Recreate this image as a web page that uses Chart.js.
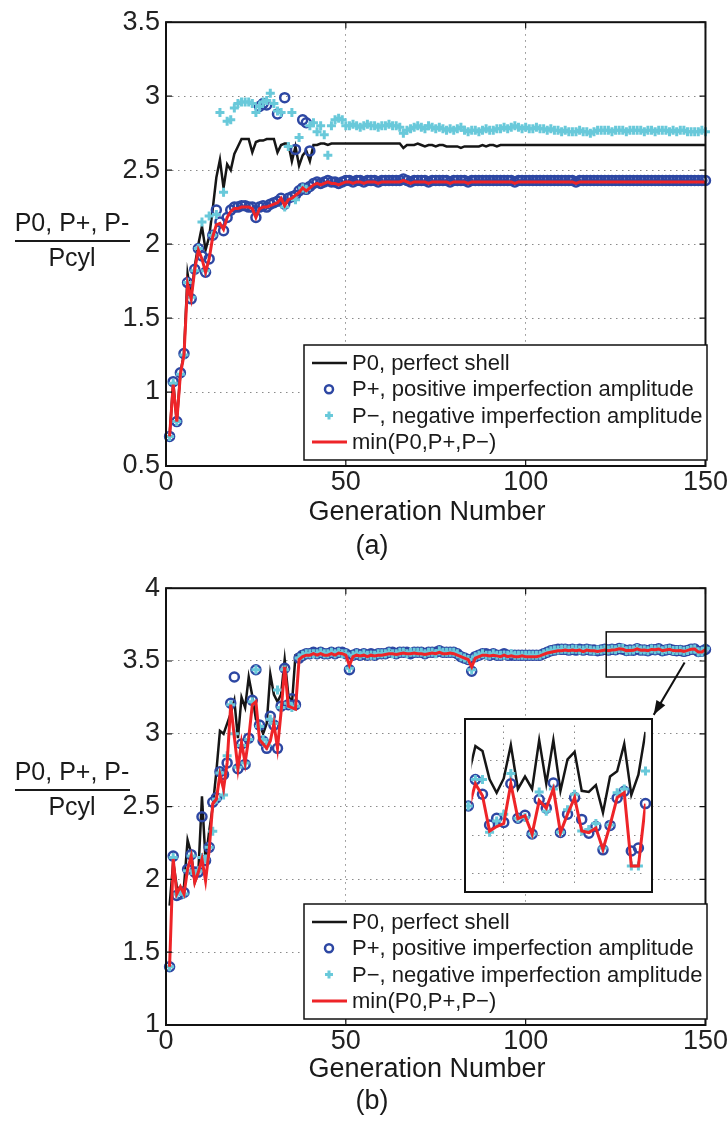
<!DOCTYPE html>
<html>
<head>
<meta charset="utf-8">
<script src="https://cdn.jsdelivr.net/npm/chart.js@4.4.1/dist/chart.umd.min.js"></script>
<style>
  html, body { margin: 0; padding: 0; background: #fff; }
  #wrap { position: relative; width: 728px; height: 1125px; }
  canvas { position: absolute; left: 0; }
  #chartA { top: 0; }
  #chartB { top: 566px; }
  #inset { left: 464px; top: 718px; }
</style>
</head>
<body>
<div id="wrap">
  <canvas id="chartA" width="728" height="566"></canvas>
  <canvas id="chartB" width="728" height="559"></canvas>
  <canvas id="inset" width="189" height="175"></canvas>
</div>
<script>
// ---- (a) values, generations 1..150 ----
const topP0 = [
  0.70,1.07,0.80,1.13,1.26,1.80,1.65,1.85,2.00,2.12,
  1.96,2.05,2.24,2.45,2.57,2.38,2.54,2.50,2.61,2.66,
  2.71,2.71,2.71,2.62,2.69,2.70,2.70,2.71,2.71,2.71,
  2.62,2.67,2.68,2.68,2.56,2.66,2.53,2.60,2.63,2.56,
  2.67,2.67,2.68,2.68,2.67,2.68,2.68,2.68,2.68,2.68,
  2.68,2.68,2.68,2.68,2.68,2.68,2.68,2.68,2.68,2.68,
  2.68,2.68,2.68,2.68,2.68,2.65,2.67,2.67,2.67,2.68,
  2.67,2.66,2.67,2.67,2.66,2.67,2.67,2.66,2.66,2.66,
  2.66,2.65,2.66,2.66,2.66,2.66,2.66,2.67,2.66,2.67,
  2.67,2.66,2.67,2.67,2.67,2.67,2.67,2.67,2.67,2.67,
  2.67,2.67,2.67,2.67,2.67,2.67,2.67,2.67,2.67,2.67,
  2.67,2.67,2.67,2.67,2.67,2.67,2.67,2.67,2.67,2.67,
  2.67,2.67,2.67,2.67,2.67,2.67,2.67,2.67,2.67,2.67,
  2.67,2.67,2.67,2.67,2.67,2.67,2.67,2.67,2.67,2.67,
  2.67,2.67,2.67,2.67,2.67,2.67,2.67,2.67,2.67,2.67
];
const topPplus = [
  0.70,1.07,0.80,1.13,1.26,1.74,1.63,1.83,1.97,1.92,
  1.81,1.90,2.06,2.23,2.15,2.09,2.18,2.23,2.25,2.25,
  2.26,2.26,2.25,2.25,2.18,2.25,2.26,2.25,2.27,2.28,
  2.29,2.31,2.27,2.31,2.32,2.33,2.36,2.38,2.37,2.39,
  2.41,2.42,2.41,2.42,2.43,2.42,2.42,2.41,2.42,2.43,
  2.43,2.42,2.43,2.43,2.42,2.43,2.43,2.43,2.42,2.43,
  2.43,2.43,2.43,2.43,2.43,2.44,2.43,2.42,2.43,2.43,
  2.43,2.43,2.42,2.43,2.43,2.43,2.43,2.43,2.42,2.43,
  2.43,2.43,2.43,2.42,2.43,2.43,2.43,2.43,2.43,2.43,
  2.43,2.43,2.43,2.43,2.43,2.43,2.42,2.43,2.43,2.43,
  2.43,2.43,2.43,2.43,2.43,2.43,2.43,2.43,2.43,2.43,
  2.43,2.43,2.43,2.42,2.43,2.43,2.43,2.43,2.43,2.43,
  2.43,2.43,2.43,2.43,2.43,2.43,2.43,2.43,2.43,2.43,
  2.43,2.43,2.43,2.43,2.43,2.43,2.43,2.43,2.43,2.43,
  2.43,2.43,2.43,2.43,2.43,2.43,2.43,2.43,2.43,2.43
];
// extra P+ designs sitting well above the main track
const topPlusExtraGen = [26, 27, 28, 31, 33, 36, 38, 39, 40];
const topPlusExtraVal = [2.93, 2.95, 2.94, 2.88, 2.99, 2.64, 2.84, 2.82, 2.63];
const topPminus = [
  0.70,1.06,0.80,1.12,1.25,1.74,1.64,1.82,1.97,2.15,
  1.82,2.19,2.06,2.20,2.89,2.35,2.83,2.84,2.92,2.95,
  2.96,2.96,2.96,2.95,2.89,2.93,2.96,2.97,3.02,2.95,
  2.90,2.89,2.25,2.66,2.89,2.30,2.72,2.38,2.37,2.80,
  2.82,2.76,2.80,2.74,2.60,2.80,2.84,2.85,2.84,2.80,
  2.80,2.81,2.80,2.79,2.80,2.81,2.80,2.80,2.79,2.80,
  2.80,2.81,2.80,2.80,2.79,2.75,2.77,2.78,2.79,2.80,
  2.79,2.78,2.80,2.79,2.78,2.79,2.78,2.77,2.78,2.77,
  2.78,2.79,2.77,2.76,2.77,2.77,2.76,2.77,2.78,2.77,
  2.77,2.78,2.78,2.79,2.78,2.79,2.80,2.79,2.78,2.79,
  2.78,2.78,2.79,2.78,2.78,2.77,2.78,2.77,2.77,2.76,
  2.77,2.76,2.76,2.76,2.77,2.76,2.76,2.75,2.76,2.77,
  2.77,2.77,2.77,2.76,2.77,2.77,2.77,2.76,2.77,2.77,
  2.77,2.77,2.76,2.77,2.77,2.76,2.77,2.77,2.77,2.76,
  2.77,2.76,2.77,2.77,2.76,2.76,2.76,2.76,2.77,2.76
];
const topMin = [
  0.70,1.05,0.80,1.12,1.25,1.73,1.63,1.83,1.96,1.90,
  1.81,1.90,2.05,2.13,2.14,2.10,2.18,2.22,2.24,2.24,
  2.25,2.25,2.25,2.24,2.18,2.24,2.25,2.25,2.26,2.27,
  2.28,2.31,2.26,2.30,2.31,2.33,2.35,2.38,2.36,2.38,
  2.40,2.41,2.40,2.41,2.42,2.41,2.41,2.40,2.41,2.42,
  2.42,2.41,2.42,2.42,2.41,2.42,2.42,2.42,2.41,2.42,
  2.42,2.42,2.42,2.42,2.42,2.43,2.42,2.41,2.42,2.42,
  2.42,2.42,2.41,2.42,2.42,2.42,2.42,2.42,2.41,2.42,
  2.42,2.42,2.42,2.41,2.42,2.42,2.42,2.42,2.42,2.42,
  2.42,2.42,2.42,2.42,2.42,2.42,2.41,2.42,2.42,2.42,
  2.42,2.42,2.42,2.42,2.42,2.42,2.42,2.42,2.42,2.42,
  2.42,2.42,2.42,2.41,2.42,2.42,2.42,2.42,2.42,2.42,
  2.42,2.42,2.42,2.42,2.42,2.42,2.42,2.42,2.42,2.42,
  2.42,2.42,2.42,2.42,2.42,2.42,2.42,2.42,2.42,2.42,
  2.42,2.42,2.42,2.42,2.42,2.42,2.42,2.42,2.42,2.42
];

// ---- (b) values, generations 1..150 ----
const botP0 = [
  1.82,2.12,1.95,1.93,1.95,2.27,2.18,1.98,2.05,2.57,
  2.13,2.33,2.50,2.74,3.02,3.00,3.07,3.14,3.23,2.97,
  3.25,3.18,3.39,3.26,3.10,3.07,3.00,3.07,3.41,3.27,
  3.22,3.27,3.51,3.27,3.20,3.54,3.55,3.56,3.56,3.56,
  3.57,3.56,3.56,3.57,3.56,3.56,3.57,3.57,3.56,3.56,
  3.55,3.55,3.56,3.56,3.56,3.55,3.56,3.56,3.56,3.56,
  3.56,3.57,3.56,3.57,3.57,3.57,3.56,3.57,3.57,3.57,
  3.57,3.56,3.57,3.57,3.57,3.58,3.57,3.57,3.57,3.57,
  3.56,3.55,3.54,3.53,3.52,3.54,3.55,3.56,3.56,3.56,
  3.56,3.56,3.55,3.56,3.56,3.56,3.55,3.55,3.55,3.55,
  3.55,3.55,3.55,3.56,3.57,3.58,3.58,3.585,3.59,3.59,
  3.59,3.585,3.59,3.585,3.59,3.585,3.59,3.59,3.585,3.59,
  3.585,3.59,3.59,3.585,3.586,3.5939,3.5926,3.5851,3.5815,3.5853,
  3.5942,3.5825,3.5858,3.5825,3.5955,3.5839,3.5955,3.5820,3.5904,3.5924,
  3.5820,3.5817,3.5835,3.5762,3.5858,3.5872,3.5945,3.5809,3.5863,3.5977
];
const botPplus = [
  1.40,2.16,1.89,1.90,1.91,2.07,2.17,2.05,2.05,2.43,
  2.13,2.22,2.53,2.56,2.74,2.72,2.80,3.21,3.39,2.76,
  2.93,2.79,2.97,3.23,3.44,3.06,2.95,2.90,3.12,3.06,
  2.90,3.19,3.45,3.20,3.24,3.20,3.52,3.54,3.55,3.55,
  3.56,3.55,3.56,3.55,3.55,3.56,3.55,3.56,3.56,3.55,
  3.44,3.54,3.55,3.54,3.55,3.54,3.55,3.54,3.55,3.55,
  3.55,3.56,3.56,3.55,3.56,3.56,3.56,3.55,3.56,3.56,
  3.56,3.55,3.56,3.56,3.56,3.57,3.56,3.56,3.56,3.56,
  3.55,3.53,3.52,3.51,3.43,3.53,3.54,3.55,3.55,3.54,
  3.55,3.54,3.54,3.55,3.54,3.54,3.54,3.54,3.54,3.54,
  3.54,3.54,3.54,3.54,3.55,3.56,3.57,3.575,3.58,3.58,
  3.58,3.575,3.58,3.575,3.58,3.575,3.58,3.575,3.575,3.57,
  3.575,3.58,3.575,3.58,3.578,3.5850,3.5811,3.5729,3.5747,3.5736,
  3.5839,3.5747,3.5755,3.5705,3.5797,3.5774,3.5841,3.5709,3.5758,3.5802,
  3.5744,3.5707,3.5725,3.5663,3.5728,3.5801,3.5819,3.5660,3.5668,3.5786
];
const botPminus = [
  1.40,2.15,1.90,1.92,1.90,2.06,2.16,2.04,2.06,2.15,
  2.14,2.22,2.33,2.55,2.73,2.58,2.85,3.20,3.00,2.77,
  2.92,2.80,2.96,3.22,3.44,3.05,2.96,2.92,3.10,3.07,
  3.30,3.18,3.44,3.21,3.18,3.19,3.52,3.54,3.55,3.55,
  3.55,3.55,3.56,3.55,3.55,3.56,3.55,3.56,3.55,3.55,
  3.45,3.54,3.55,3.54,3.55,3.54,3.54,3.54,3.55,3.55,
  3.55,3.56,3.55,3.55,3.56,3.56,3.55,3.56,3.56,3.56,
  3.56,3.55,3.56,3.56,3.55,3.57,3.56,3.56,3.56,3.56,
  3.55,3.53,3.52,3.51,3.44,3.53,3.54,3.55,3.54,3.54,
  3.55,3.54,3.54,3.54,3.54,3.55,3.54,3.54,3.54,3.54,
  3.54,3.54,3.54,3.54,3.55,3.56,3.57,3.575,3.575,3.58,
  3.58,3.575,3.58,3.58,3.575,3.575,3.58,3.575,3.57,3.575,
  3.575,3.58,3.575,3.58,3.578,3.5850,3.5850,3.5710,3.5740,3.5758,
  3.5866,3.5747,3.5749,3.5705,3.5817,3.5766,3.5825,3.5710,3.5770,3.5811,
  3.5713,3.5717,3.5733,3.5668,3.5729,3.5815,3.5825,3.5620,3.5620,3.5873
];
const botMin = [
  1.40,2.14,1.90,1.95,1.90,2.07,2.16,1.98,2.05,2.14,
  1.99,2.20,2.52,2.55,2.72,2.62,2.80,3.20,2.98,2.76,
  2.94,2.80,2.97,3.20,3.22,2.96,2.93,2.90,2.95,3.07,
  2.90,3.15,3.46,3.19,3.18,3.17,3.51,3.53,3.54,3.54,
  3.55,3.54,3.55,3.54,3.54,3.55,3.54,3.555,3.55,3.54,
  3.47,3.53,3.54,3.535,3.54,3.53,3.54,3.535,3.54,3.54,
  3.545,3.55,3.55,3.545,3.55,3.555,3.55,3.55,3.555,3.55,
  3.55,3.545,3.55,3.555,3.55,3.56,3.55,3.55,3.555,3.55,
  3.54,3.53,3.52,3.51,3.46,3.52,3.53,3.54,3.54,3.535,
  3.54,3.535,3.53,3.54,3.53,3.535,3.53,3.53,3.535,3.53,
  3.53,3.53,3.53,3.535,3.545,3.555,3.56,3.565,3.57,3.57,
  3.575,3.57,3.575,3.57,3.575,3.565,3.575,3.57,3.57,3.565,
  3.57,3.575,3.57,3.575,3.577,3.5839,3.5807,3.5713,3.5725,3.5733,
  3.5839,3.5746,3.5754,3.5705,3.5794,3.5774,3.5825,3.5709,3.5758,3.5802,
  3.5713,3.5709,3.5721,3.5664,3.5729,3.5802,3.5815,3.5620,3.5620,3.5786
];

const xTicks = [0, 50, 100, 150];
const insetXTicks = [130, 140];
const insetYTicks = [3.56, 3.57, 3.58, 3.59];
const legendLabels = ['P0, perfect shell', 'P+, positive imperfection amplitude',
  'P\u2212, negative imperfection amplitude', 'min(P0,P+,P\u2212)'];

const BLACK = '#161616', BLUE = '#2d47a3', CYAN = '#69c9da', RED = '#ee2428';
const FONT = "'Liberation Sans', Arial, Helvetica, sans-serif";
Chart.defaults.font.family = FONT;
Chart.defaults.color = '#222';

const gens = topP0.map((v, i) => i + 1);
const xy = (ys, xs) => ys.map((y, i) => ({ x: (xs || gens)[i], y: y }));

function datasets(p0, plus, minus, low) {
  return [
    { data: p0, borderColor: BLACK, borderWidth: 2.5, pointRadius: 0, tension: 0, order: 4 },
    { data: plus, showLine: false, pointStyle: 'circle', pointRadius: 4.5, pointBorderWidth: 2.5,
      pointBorderColor: BLUE, pointBackgroundColor: 'rgba(0,0,0,0)', borderColor: BLUE, order: 3, clip: false },
    { data: minus, showLine: false, pointStyle: 'cross', pointRadius: 4.5, pointBorderWidth: 3,
      pointBorderColor: CYAN, borderColor: CYAN, order: 2, clip: false },
    { data: low, borderColor: RED, borderWidth: 3, pointRadius: 0, tension: 0, order: 1 }
  ];
}

const gridStyle = { color: '#8a8a8a', lineWidth: 1, drawTicks: false };

function mainScales(ymin, ymax) {
  return {
    x: {
      type: 'linear', min: 0, max: 150,
      afterBuildTicks: s => { s.ticks = xTicks.map(v => ({ value: v })); },
      ticks: { font: { size: 27 }, color: '#222', padding: 0, maxRotation: 0, autoSkip: false },
      grid: gridStyle, border: { display: false, dash: [1.5, 4.5] },
      afterFit: s => { s.height = 100; }
    },
    y: {
      min: ymin, max: ymax,
      ticks: { stepSize: 0.5, font: { size: 27 }, color: '#222', padding: 6,
        callback: v => String(Math.round(v * 10) / 10) },
      grid: gridStyle, border: { display: false, dash: [1.5, 4.5] },
      afterFit: s => { s.width = 166; }
    }
  };
}

function drawLegend(ctx, a) {
  const L = 304, R = 707, T = a.bottom - 121, B = a.bottom - 6;
  ctx.fillStyle = '#fff';
  ctx.fillRect(L, T, R - L, B - T);
  ctx.strokeStyle = '#111';
  ctx.lineWidth = 1.5;
  ctx.strokeRect(L, T, R - L, B - T);
  ctx.font = '22px ' + FONT;
  ctx.textAlign = 'left';
  ctx.textBaseline = 'middle';
  legendLabels.forEach((lab, i) => {
    const y = T + 18 + 26.3 * i;
    if (i === 0 || i === 3) {
      ctx.strokeStyle = i === 0 ? BLACK : RED;
      ctx.lineWidth = i === 0 ? 2.5 : 3;
      ctx.beginPath(); ctx.moveTo(312, y); ctx.lineTo(347, y); ctx.stroke();
    } else if (i === 1) {
      ctx.strokeStyle = BLUE; ctx.lineWidth = 2.5;
      ctx.beginPath(); ctx.arc(329, y, 4, 0, Math.PI * 2); ctx.stroke();
    } else {
      ctx.strokeStyle = CYAN; ctx.lineWidth = 3;
      ctx.beginPath(); ctx.moveTo(325, y); ctx.lineTo(333, y);
      ctx.moveTo(329, y - 4); ctx.lineTo(329, y + 4); ctx.stroke();
    }
    ctx.fillStyle = '#1a1a1a';
    ctx.fillText(lab, 352, y + 1);
  });
}

function decor(opt) {
  return {
    id: 'decor',
    afterDraw(chart) {
      const { ctx, chartArea: a, scales: { x, y } } = chart;
      ctx.save();
      // zoom box and arrow (b only)
      if (opt.zoom) {
        const z = opt.zoom;
        ctx.strokeStyle = '#111'; ctx.lineWidth = 1.5;
        const zl = x.getPixelForValue(z.x0), zt = y.getPixelForValue(z.y1), zb = y.getPixelForValue(z.y0);
        ctx.strokeRect(zl, zt, a.right - zl, zb - zt);
        const x1 = x.getPixelForValue(z.ax0), y1 = y.getPixelForValue(z.ay0);
        const x2 = x.getPixelForValue(z.ax1), y2 = y.getPixelForValue(z.ay1);
        ctx.lineWidth = 2;
        ctx.beginPath(); ctx.moveTo(x1, y1); ctx.lineTo(x2, y2); ctx.stroke();
        const ang = Math.atan2(y2 - y1, x2 - x1), h = 15;
        ctx.fillStyle = '#111';
        ctx.beginPath();
        ctx.moveTo(x2, y2);
        ctx.lineTo(x2 - h * Math.cos(ang - 0.35), y2 - h * Math.sin(ang - 0.35));
        ctx.lineTo(x2 - h * Math.cos(ang + 0.35), y2 - h * Math.sin(ang + 0.35));
        ctx.closePath(); ctx.fill();
      }
      // inward tick marks and frame
      ctx.strokeStyle = '#111'; ctx.lineWidth = 1.2;
      ctx.beginPath();
      x.ticks.forEach(t => {
        const px = x.getPixelForValue(t.value);
        ctx.moveTo(px, a.bottom); ctx.lineTo(px, a.bottom - 6);
        ctx.moveTo(px, a.top); ctx.lineTo(px, a.top + 6);
      });
      y.ticks.forEach(t => {
        const py = y.getPixelForValue(t.value);
        ctx.moveTo(a.left, py); ctx.lineTo(a.left + 6, py);
        ctx.moveTo(a.right, py); ctx.lineTo(a.right - 6, py);
      });
      ctx.stroke();
      ctx.lineWidth = 2;
      ctx.strokeRect(a.left, a.top, a.right - a.left, a.bottom - a.top);
      drawLegend(ctx, a);
      // y label as a fraction
      ctx.fillStyle = '#1a1a1a';
      ctx.font = '25px ' + FONT;
      ctx.textAlign = 'center'; ctx.textBaseline = 'middle';
      ctx.fillText('P0, P+, P-', 72, opt.fracY - 17);
      ctx.fillText('Pcyl', 72, opt.fracY + 18);
      ctx.lineWidth = 2; ctx.strokeStyle = '#1a1a1a';
      ctx.beginPath(); ctx.moveTo(15, opt.fracY); ctx.lineTo(130, opt.fracY); ctx.stroke();
      // x label and caption
      ctx.font = '27px ' + FONT;
      ctx.fillText('Generation Number', 427, opt.titleY);
      ctx.fillText(opt.caption, 372, opt.capY);
      ctx.restore();
    }
  };
}

const common = {
  responsive: false, animation: false, devicePixelRatio: 1, events: [],
  plugins: { legend: { display: false }, tooltip: { enabled: false } }
};

new Chart(document.getElementById('chartA'), {
  type: 'line',
  data: { datasets: datasets(xy(topP0), xy(topPplus).concat(xy(topPlusExtraVal, topPlusExtraGen)), xy(topPminus), xy(topMin)) },
  options: Object.assign({}, common, {
    layout: { padding: { top: 16, right: 19, left: 0, bottom: 0 } },
    scales: mainScales(0.5, 3.5)
  }),
  plugins: [decor({ fracY: 241, titleY: 513, capY: 547, caption: '(a)' })]
});

new Chart(document.getElementById('chartB'), {
  type: 'line',
  data: { datasets: datasets(xy(botP0), xy(botPplus), xy(botPminus), xy(botMin)) },
  options: Object.assign({}, common, {
    layout: { padding: { top: 15, right: 19, left: 0, bottom: 0 } },
    scales: mainScales(1, 4)
  }),
  plugins: [decor({ fracY: 224, titleY: 504, capY: 536, caption: '(b)',
    zoom: { x0: 122.4, y0: 3.39, y1: 3.70, ax0: 144.2, ay0: 3.49, ax1: 135.6, ay1: 3.13 } })]
});

// inset: zoom on generations 125..150 of (b)
new Chart(document.getElementById('inset'), {
  type: 'line',
  data: { datasets: datasets(
    xy(botP0.slice(124), gens.slice(124)), xy(botPplus.slice(124), gens.slice(124)),
    xy(botPminus.slice(124), gens.slice(124)), xy(botMin.slice(124), gens.slice(124))) },
  options: Object.assign({}, common, {
    layout: { padding: 0 },
    scales: {
      x: { type: 'linear', min: 125.45, max: 150, ticks: { display: false },
        grid: gridStyle, border: { display: false, dash: [1.5, 4.5] },
        afterBuildTicks: s => { s.ticks = insetXTicks.map(v => ({ value: v })); },
        afterFit: s => { s.height = 0; } },
      y: { min: 3.5568, max: 3.5994, ticks: { display: false },
        grid: gridStyle, border: { display: false, dash: [1.5, 4.5] },
        afterBuildTicks: s => { s.ticks = insetYTicks.map(v => ({ value: v })); },
        afterFit: s => { s.width = 0; } }
    }
  }),
  plugins: [{
    id: 'insetFrame',
    beforeDraw(chart) {
      chart.ctx.save(); chart.ctx.fillStyle = '#fff';
      chart.ctx.fillRect(0, 0, chart.width, chart.height); chart.ctx.restore();
    },
    afterDraw(chart) {
      const ctx = chart.ctx;
      ctx.save(); ctx.strokeStyle = '#111'; ctx.lineWidth = 2;
      ctx.strokeRect(1, 1, chart.width - 2, chart.height - 2); ctx.restore();
    }
  }]
});
</script>
</body>
</html>
